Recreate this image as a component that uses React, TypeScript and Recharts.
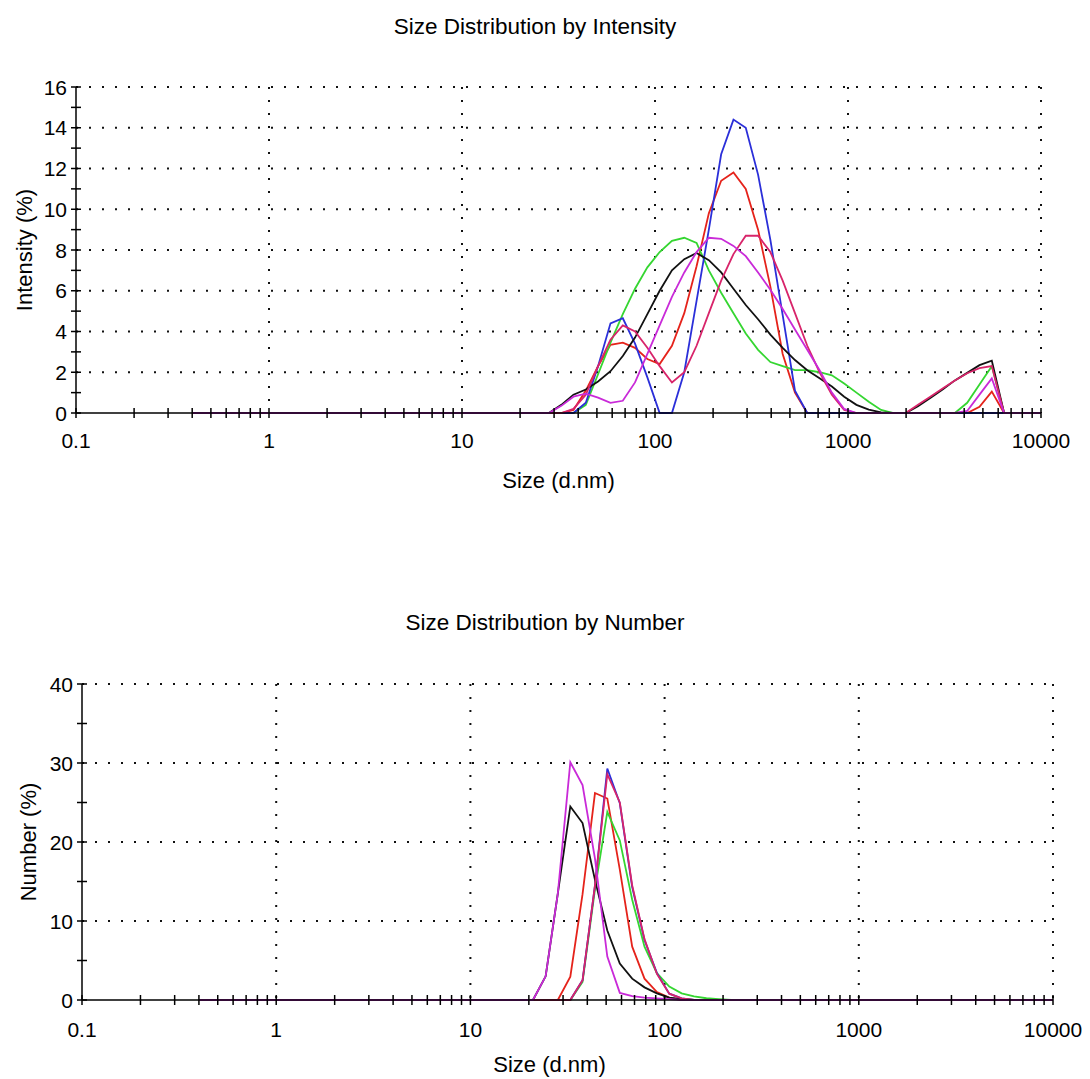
import React from 'react';
import { LineChart, Line, XAxis, YAxis, CartesianGrid } from 'recharts';

const FONT = '"Liberation Sans", Arial, Helvetica, sans-serif';

// Size classes (d.nm): first class 0.4, then classes 27..69 of the instrument grid
const SIZES = [
  0.4, 21.0, 24.4, 28.2, 32.7, 37.8, 43.8, 50.7, 58.8, 68.1, 78.8, 91.3, 105.7, 122.4, 141.8,
  164.2, 190.1, 220.2, 255.0, 295.3, 342.0, 396.1, 458.7, 531.2, 615.1, 712.4, 825.0, 955.4,
  1106, 1281, 1484, 1718, 1990, 2305, 2669, 3091, 3580, 4145, 4801, 5560, 6439, 7457, 8635, 10000,
];

// Intensity (%) per size class, one array per record
const INT_RED = [0,
  0, 0, 0, 0, 0.15, 1.1, 2.3, 3.35, 3.45, 3.2,
  2.65, 2.4, 3.3, 4.9, 7.2, 9.8, 11.4, 11.8, 11.0, 9.0,
  6.2, 2.9, 1.0, 0, 0, 0, 0, 0, 0, 0,
  0, 0, 0, 0, 0, 0, 0, 0.3, 1.05, 0,
  0, 0, 0];
const INT_GREEN = [0,
  0, 0, 0, 0, 0, 0.4, 1.9, 3.45, 4.85, 6.1,
  7.15, 7.9, 8.45, 8.6, 8.35, 7.0, 5.9, 4.9, 3.9, 3.1,
  2.5, 2.3, 2.1, 2.1, 2.0, 1.85, 1.45, 1.0, 0.55, 0.15,
  0, 0, 0, 0, 0, 0, 0.5, 1.4, 2.3, 0,
  0, 0, 0];
const INT_BLUE = [0,
  0, 0, 0, 0, 0, 0.5, 2.3, 4.4, 4.65, 3.4,
  1.75, 0, 0, 2.0, 5.5, 9.0, 12.7, 14.4, 14.0, 11.7,
  8.5, 4.8, 1.1, 0, 0, 0, 0, 0, 0, 0,
  0, 0, 0, 0, 0, 0, 0, 0, 0, 0,
  0, 0, 0];
const INT_BLACK = [0,
  0, 0, 0, 0.4, 0.9, 1.15, 1.55, 2.05, 2.8, 3.7,
  4.85, 6.0, 7.0, 7.55, 7.85, 7.5, 6.9, 6.1, 5.3, 4.6,
  3.85, 3.2, 2.6, 2.1, 1.7, 1.3, 0.8, 0.4, 0.17, 0.03,
  0, 0, 0.33, 0.74, 1.15, 1.6, 1.97, 2.35, 2.57, 0,
  0, 0, 0];
const INT_CRIMSON = [0,
  0, 0, 0, 0, 0.2, 0.9, 2.3, 3.6, 4.3, 4.0,
  3.2, 2.3, 1.5, 2.0, 3.3, 4.9, 6.5, 7.8, 8.7, 8.7,
  7.9, 6.5, 4.9, 3.3, 2.0, 0.9, 0.15, 0, 0, 0,
  0, 0, 0.4, 0.8, 1.2, 1.6, 1.95, 2.2, 2.3, 0,
  0, 0, 0];
const INT_MAGENTA = [0,
  0, 0, 0, 0.35, 0.8, 0.95, 0.75, 0.5, 0.6, 1.5,
  2.9, 4.3, 5.7, 6.9, 7.9, 8.6, 8.55, 8.2, 7.7, 6.9,
  6.05, 5.1, 4.1, 3.1, 2.1, 1.0, 0.2, 0, 0, 0,
  0, 0, 0, 0, 0, 0, 0.1, 0.9, 1.7, 0,
  0, 0, 0];

// Number (%) per size class
const NUM_RED = [0,
  0, 0, 0, 2.95, 13.4, 26.2, 25.5, 16.5, 6.75, 2.7,
  1.0, 0.3, 0, 0, 0, 0, 0, 0, 0, 0,
  0, 0, 0, 0, 0, 0, 0, 0, 0, 0,
  0, 0, 0, 0, 0, 0, 0, 0, 0, 0,
  0, 0, 0];
const NUM_GREEN = [0,
  0, 0, 0, 0, 2.3, 14.0, 23.8, 20.2, 12.7, 6.75,
  3.4, 1.7, 0.84, 0.45, 0.22, 0.1, 0, 0, 0, 0,
  0, 0, 0, 0, 0, 0, 0, 0, 0, 0,
  0, 0, 0, 0, 0, 0, 0, 0, 0, 0,
  0, 0, 0];
const NUM_BLUE = [0,
  0, 0, 0, 0, 2.5, 14.5, 29.3, 24.9, 14.3, 7.6,
  3.4, 0.8, 0.2, 0, 0, 0, 0, 0, 0, 0,
  0, 0, 0, 0, 0, 0, 0, 0, 0, 0,
  0, 0, 0, 0, 0, 0, 0, 0, 0, 0,
  0, 0, 0];
const NUM_BLACK = [0,
  0, 3.0, 13.5, 24.5, 22.4, 15.2, 8.8, 4.6, 2.7, 1.6,
  0.84, 0.3, 0.1, 0, 0, 0, 0, 0, 0, 0,
  0, 0, 0, 0, 0, 0, 0, 0, 0, 0,
  0, 0, 0, 0, 0, 0, 0, 0, 0, 0,
  0, 0, 0];
const NUM_CRIMSON = [0,
  0, 0, 0, 0, 2.5, 14.5, 28.6, 25.0, 14.5, 7.7,
  3.3, 0.8, 0.2, 0, 0, 0, 0, 0, 0, 0,
  0, 0, 0, 0, 0, 0, 0, 0, 0, 0,
  0, 0, 0, 0, 0, 0, 0, 0, 0, 0,
  0, 0, 0];
const NUM_MAGENTA = [0,
  0, 3.0, 13.5, 30.1, 27.2, 17.9, 5.5, 0.9, 0.5, 0.3,
  0.2, 0.1, 0, 0, 0, 0, 0, 0, 0, 0,
  0, 0, 0, 0, 0, 0, 0, 0, 0, 0,
  0, 0, 0, 0, 0, 0, 0, 0, 0, 0,
  0, 0, 0];

const SERIES = [
  { key: 'red', color: '#e5231b' },
  { key: 'green', color: '#35d631' },
  { key: 'blue', color: '#2b2fd9' },
  { key: 'black', color: '#111111' },
  { key: 'crimson', color: '#d8246a' },
  { key: 'magenta', color: '#c92ad8' },
];

const X_DECADES = [0.1, 1, 10, 100, 1000, 10000];
const X_LABELS = ['0.1', '1', '10', '100', '1000', '10000'];
const X_MINOR = [2, 3, 4, 5, 6, 7, 8, 9];
const X_GRID = [1, 10, 100, 1000, 10000];

const INT_Y_TICKS = [0, 1, 2, 3, 4, 5, 6, 7, 8, 9, 10, 11, 12, 13, 14, 15, 16];
const INT_Y_LABELS = [0, 2, 4, 6, 8, 10, 12, 14, 16];
const NUM_Y_TICKS = [0, 5, 10, 15, 20, 25, 30, 35, 40];
const NUM_Y_LABELS = [0, 10, 20, 30, 40];

const X_TICKS = X_DECADES.flatMap((d, i) =>
  i < X_DECADES.length - 1 ? [d, ...X_MINOR.map((m) => +(d * m).toPrecision(3))] : [d]
);

const buildRows = (cols: Record<string, number[]>) =>
  SIZES.map((size, i) => {
    const row: Record<string, number> = { size };
    Object.keys(cols).forEach((k) => (row[k] = cols[k][i]));
    return row;
  });

const intensityRows = buildRows({
  red: INT_RED, green: INT_GREEN, blue: INT_BLUE, black: INT_BLACK, crimson: INT_CRIMSON, magenta: INT_MAGENTA,
});
const numberRows = buildRows({
  red: NUM_RED, green: NUM_GREEN, blue: NUM_BLUE, black: NUM_BLACK, crimson: NUM_CRIMSON, magenta: NUM_MAGENTA,
});

function YTick(props: any) {
  const { x, y, payload, labels } = props;
  const v = payload.value;
  return (
    <g>
      <line x1={x - 5} x2={x + 5} y1={y} y2={y} stroke="#000" strokeWidth={1.5} />
      {labels.includes(v) && (
        <text x={x - 9} y={y} dy="0.36em" textAnchor="end" fontSize={21} fontFamily={FONT} fill="#000">
          {v}
        </text>
      )}
    </g>
  );
}

function XTick(props: any) {
  const { x, y, payload, labelDy } = props;
  const idx = X_DECADES.indexOf(payload.value);
  return (
    <g>
      <line x1={x} x2={x} y1={y - 5} y2={y + 5} stroke="#000" strokeWidth={1.5} />
      {idx >= 0 && (
        <text x={x} y={y + labelDy} textAnchor="middle" fontSize={21} fontFamily={FONT} fill="#000">
          {X_LABELS[idx]}
        </text>
      )}
    </g>
  );
}

interface DistChartProps {
  rows: Record<string, number>[];
  yLabel: string;
  yMax: number;
  yTicks: number[];
  yLabels: number[];
  height: number;
  rightMargin: number;
  yAxisWidth: number;
  xAxisHeight: number;
  bottomMargin: number;
  xLabelOffset: number;
  xLabelDx: number;
  yLabelOffset: number;
  tickLabelDy: number;
}

function DistChart(p: DistChartProps) {
  const labelStyle = { fontSize: 22, fontFamily: FONT, fill: '#000' };
  return (
    <LineChart
      width={1090}
      height={p.height}
      data={p.rows}
      margin={{ top: 87, right: p.rightMargin, bottom: p.bottomMargin, left: 0 }}
    >
      <CartesianGrid
        stroke="#111"
        strokeWidth={2}
        strokeDasharray="2 11"
        horizontalValues={p.yLabels.slice(1)}
        verticalValues={X_GRID}
      />
      <XAxis
        dataKey="size"
        type="number"
        scale="log"
        domain={[0.1, 10000]}
        allowDataOverflow
        ticks={X_TICKS}
        interval={0}
        height={p.xAxisHeight}
        tickSize={0}
        tickMargin={0}
        tickLine={false}
        axisLine={{ stroke: '#000', strokeWidth: 1.5 }}
        tick={(t: any) => <XTick {...t} labelDy={p.tickLabelDy} />}
        label={{ value: 'Size (d.nm)', position: 'insideBottom', offset: p.xLabelOffset, dx: p.xLabelDx, style: labelStyle }}
      />
      <YAxis
        type="number"
        domain={[0, p.yMax]}
        ticks={p.yTicks}
        interval={0}
        width={p.yAxisWidth}
        tickSize={0}
        tickMargin={0}
        tickLine={false}
        axisLine={{ stroke: '#000', strokeWidth: 1.5 }}
        tick={(t: any) => <YTick {...t} labels={p.yLabels} />}
        label={{
          value: p.yLabel,
          angle: -90,
          position: 'insideLeft',
          offset: p.yLabelOffset,
          style: { ...labelStyle, textAnchor: 'middle' },
        }}
      />
      {SERIES.map((s) => (
        <Line
          key={s.key}
          type="linear"
          dataKey={s.key}
          stroke={s.color}
          strokeWidth={1.8}
          dot={false}
          activeDot={false}
          isAnimationActive={false}
        />
      ))}
    </LineChart>
  );
}

const titleStyle = (top: number, center: number): React.CSSProperties => ({
  position: 'absolute',
  top,
  left: center - 300,
  width: 600,
  textAlign: 'center',
  fontFamily: FONT,
  fontSize: 22.5,
  lineHeight: 1,
  color: '#000',
});

export default function App() {
  return (
    <div style={{ position: 'absolute', left: 0, top: 0, width: 1090, height: 1079, background: '#fff', overflow: 'hidden' }}>
      <div style={titleStyle(16, 535)}>Size Distribution by Intensity</div>
      <div style={{ position: 'absolute', left: 0, top: 0 }}>
        <DistChart
          rows={intensityRows}
          yLabel="Intensity (%)"
          yMax={16}
          yTicks={INT_Y_TICKS}
          yLabels={INT_Y_LABELS}
          height={510}
          rightMargin={49}
          yAxisWidth={76}
          xAxisHeight={90}
          bottomMargin={7}
          xLabelOffset={15}
          xLabelDx={0}
          yLabelOffset={24}
          tickLabelDy={35}
        />
      </div>
      <div style={titleStyle(612, 545)}>Size Distribution by Number</div>
      <div style={{ position: 'absolute', left: 0, top: 597 }}>
        <DistChart
          rows={numberRows}
          yLabel="Number (%)"
          yMax={40}
          yTicks={NUM_Y_TICKS}
          yLabels={NUM_Y_LABELS}
          height={482}
          rightMargin={37}
          yAxisWidth={82}
          xAxisHeight={79}
          bottomMargin={0}
          xLabelOffset={7}
          xLabelDx={-18}
          yLabelOffset={28}
          tickLabelDy={37}
        />
      </div>
    </div>
  );
}
